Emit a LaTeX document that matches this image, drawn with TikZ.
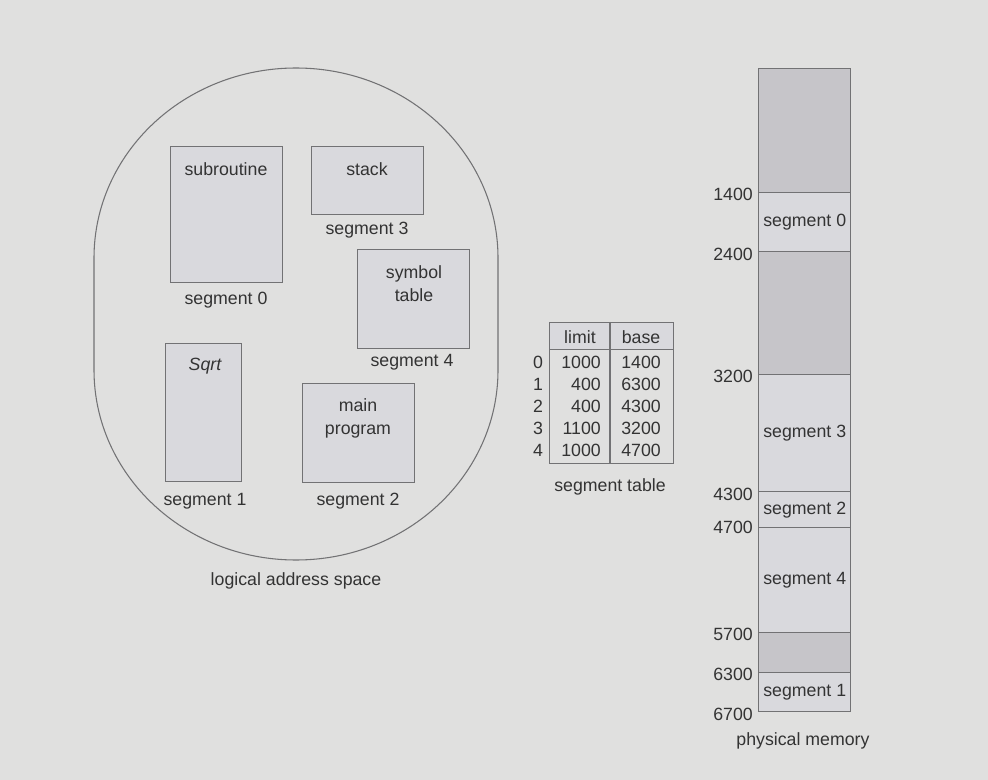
\documentclass[tikz,border=0pt]{standalone}
\usepackage{fontspec}
\setmainfont{Liberation Sans}
\definecolor{bg}{HTML}{E0E0DF}
\definecolor{boxfill}{HTML}{D9D9DD}
\definecolor{darkfill}{HTML}{C6C5C9}
\definecolor{ln}{HTML}{727274}
\definecolor{txt}{HTML}{333333}
\begin{document}
\begin{tikzpicture}[x=0.75pt,y=-0.75pt,
  every node/.style={font=\fontsize{13.3}{17.25}\selectfont, text=txt},
  seg/.style={draw=ln, line width=1.1pt, fill=boxfill, inner sep=0, anchor=north west},
  mem/.style={draw=ln, line width=1.1pt, fill=boxfill, inner sep=0, anchor=north west, minimum width=69pt},
  memdark/.style={mem, fill=darkfill},
  lbl/.style={inner sep=0},
  addr/.style={inner sep=0, anchor=east}]
\fill[bg] (0,0) rectangle (988,780);
\useasboundingbox (0,0) rectangle (988,780);

% logical address space outline
\draw[ln, line width=0.8pt] (94,370) -- (94,258)
  arc[start angle=180, end angle=360, x radius=202, y radius=190]
  -- (498,370)
  arc[start angle=0, end angle=180, x radius=202, y radius=190] -- cycle;

% segments in logical space
\node[seg, minimum width=84pt, minimum height=102pt] (sub) at (170,146) {};
\node[lbl] (subT) at (226,169) {subroutine};
\node[lbl] (subL) at (226,300) {segment 0};

\node[seg, minimum width=84pt, minimum height=51pt] (stk) at (311,146) {};
\node[lbl] (stkT) at (367,169) {stack};
\node[lbl] (stkL) at (367,230) {segment 3};

\node[seg, minimum width=84pt, minimum height=74.25pt] (sym) at (357,249) {};
\node[lbl, align=center] (symT) at (414,284) {symbol\\table};
\node[lbl] (symL) at (412,362) {segment 4};

\node[seg, minimum width=57pt, minimum height=103.5pt] (sqrt) at (165,343) {};
\node[lbl] (sqrtT) at (205,366) {\itshape Sqrt};
\node[lbl] (sqrtL) at (205,501) {segment 1};

\node[seg, minimum width=84pt, minimum height=74.25pt] (mainp) at (302,383) {};
\node[lbl, align=center] (mainT) at (358,418) {main\\program};
\node[lbl] (mainL) at (358,501) {segment 2};

\node[lbl] (las) at (296,581) {logical address space};

% segment table
\node[seg, minimum width=93pt, minimum height=20.25pt] (thead) at (549,322) {};
\node[seg, fill=none, minimum width=93pt, minimum height=85.5pt] (tbody) at (549,349) {};
\coordinate (dtop) at (610,322);
\coordinate (dbot) at (610,463);
\draw[ln, line width=1.1pt] (dtop) -- (dbot);
\node[lbl] (hlim) at (580,337) {limit};
\node[lbl] (hbase) at (641,337) {base};
\foreach \i/\l/\b [count=\k from 0] in {0/1000/1400,1/400/6300,2/400/4300,3/1100/3200,4/1000/4700}{
  \node[lbl] (idx\k) at (538,{362+22*\k}) {\i};
  \node[lbl, anchor=east] (lim\k) at (601,{362+22*\k}) {\l};
  \node[lbl] (bas\k) at (641,{362+22*\k}) {\b};
}
\node[lbl] (stab) at (610,487) {segment table};

% physical memory
\node[memdark, minimum height=93pt] (m0) at (758,68) {};
\node[mem, minimum height=44.25pt] (m1) at (758,192) {segment 0};
\node[memdark, minimum height=92.25pt] (m2) at (758,251) {};
\node[mem, minimum height=87.75pt] (m3) at (758,374) {segment 3};
\node[mem, minimum height=27pt] (m4) at (758,491) {segment 2};
\node[mem, minimum height=78.75pt] (m5) at (758,527) {segment 4};
\node[memdark, minimum height=30pt] (m6) at (758,632) {};
\node[mem, minimum height=29.25pt] (m7) at (758,672) {segment 1};

\node[addr] (a1400) at (753,194) {1400};
\node[addr] (a2400) at (753,254) {2400};
\node[addr] (a3200) at (753,376) {3200};
\node[addr] (a4300) at (753,494) {4300};
\node[addr] (a4700) at (753,527) {4700};
\node[addr] (a5700) at (753,634) {5700};
\node[addr] (a6300) at (753,674) {6300};
\node[addr] (a6700) at (753,714) {6700};

\node[lbl] (pm) at (803,741) {physical memory};
\end{tikzpicture}
\end{document}
